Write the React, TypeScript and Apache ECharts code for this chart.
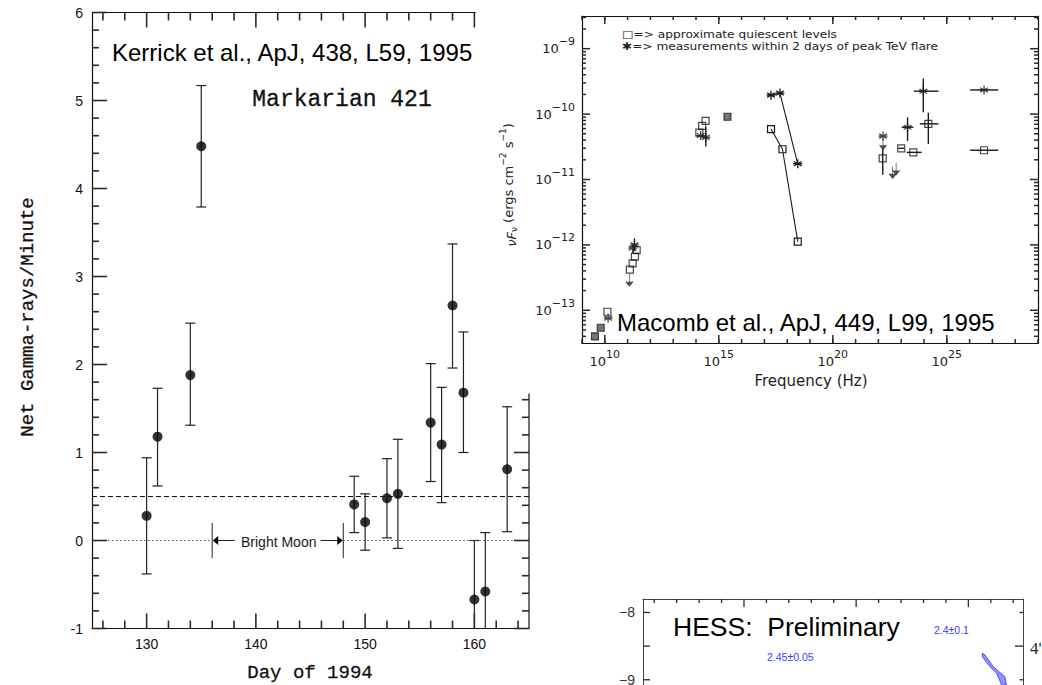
import React, { useEffect, useRef } from 'react';
import * as echarts from 'echarts';

// ---------- Kerrick et al. 1995: Whipple light curve of Markarian 421 ----------
const kerrickDays = [130, 131, 134, 135, 149, 150, 152, 153, 156, 157, 158, 159, 160, 161, 163];
const kerrickRates = [0.28, 1.18, 1.88, 4.48, 0.41, 0.21, 0.48, 0.53, 1.34, 1.09, 2.67, 1.68, -0.67, -0.58, 0.81];
const kerrickUpper = [0.94, 1.73, 2.47, 5.17, 0.73, 0.53, 0.93, 1.15, 2.01, 1.74, 3.37, 2.37, 0.0, 0.09, 1.52];
const kerrickLower = [-0.38, 0.62, 1.31, 3.79, 0.09, -0.11, 0.03, -0.09, 0.67, 0.43, 1.96, 1.0, -1.34, -1.25, 0.1];
const kerrickDayRange = [125, 165];
const kerrickRateRange = [-1, 6];
const kerrickDayTicks = [130, 140, 150, 160];
const kerrickMinorDays = [126, 128, 132, 134, 136, 138, 142, 144, 146, 148, 152, 154, 156, 158, 162, 164];
const kerrickRateTicks = [-1, 0, 1, 2, 3, 4, 5, 6];
// the spectrum panel is pasted over the upper right corner of the light curve frame
const kerrickTopEdgeEnd = 160.1;
const kerrickRightEdgeEnd = 1.67;
const meanRate = 0.5;
const brightMoon = [136, 148];
const brightMoonLabel = 'Bright Moon';

// ---------- Macomb et al. 1995: spectrum, [frequency Hz, nuFnu erg cm^-2 s^-1] ----------
const quiescentPoints = [
  [1.3e10, 9.5e-14],
  [1.26e11, 4.2e-13],
  [1.66e11, 5.2e-13],
  [2.1e11, 6.6e-13],
  [2.5e11, 8.3e-13],
  [1.4e14, 5.2e-11],
  [1.86e14, 6.6e-11],
  [2.63e14, 7.9e-11],
  [1.55e22, 2.1e-11],
  [1.0e23, 3.0e-11],
  [3.4e23, 2.6e-11],
  [1.55e24, 7.1e-11],
  [4.3e26, 2.8e-11],
];
const quiescentFilled = [
  [3.7e9, 4.0e-14],
  [6.6e9, 5.4e-14],
  [2.4e15, 9.1e-11],
];
const quiescentXray = [
  [1.95e17, 5.9e-11],
  [6.2e17, 2.9e-11],
  [2.9e18, 1.12e-12],
];
const flarePoints = [
  [1.4e10, 7.6e-14],
  [1.66e11, 8.9e-13],
  [2.0e11, 1.0e-12],
  [1.6e14, 4.7e-11],
  [2.7e14, 4.4e-11],
  [1.6e22, 4.6e-11],
  [1.9e23, 6.3e-11],
  [9.3e23, 2.24e-10],
  [4.3e26, 2.34e-10],
];
const flareXray = [
  [1.95e17, 1.95e-10],
  [4.8e17, 2.1e-10],
  [2.9e18, 1.74e-11],
];
const upperLimits = [
  [1.2e11, 3.6e-13],
  [1.6e22, 4.4e-11],
  [4.2e22, 1.6e-11],
  [6.0e22, 1.8e-11],
];
// [nu, F, nuLow, nuHigh, FLow, FHigh]
const sedErrorBars = [
  [1.55e22, 2.1e-11, 1.55e22, 1.55e22, 1.18e-11, 3.0e-11],
  [1.0e23, 3.0e-11, 7.5e22, 1.35e23, 3.0e-11, 3.0e-11],
  [3.4e23, 2.6e-11, 1.74e23, 7.9e23, 2.6e-11, 2.6e-11],
  [1.55e24, 7.1e-11, 6.6e23, 4.3e24, 3.5e-11, 1.05e-10],
  [4.3e26, 2.8e-11, 1.05e26, 1.8e27, 2.8e-11, 2.8e-11],
  [1.9e23, 6.3e-11, 1.05e23, 3.4e23, 3.9e-11, 8.9e-11],
  [9.3e23, 2.24e-10, 3.6e23, 4.3e24, 1.07e-10, 3.5e-10],
  [4.3e26, 2.34e-10, 1.05e26, 1.8e27, 2.34e-10, 2.34e-10],
  [2.7e14, 4.4e-11, 2.7e14, 2.7e14, 3.2e-11, 6.3e-11],
  [2.0e11, 1.0e-12, 2.0e11, 2.0e11, 8.0e-13, 1.26e-12],
];
const freqDecadeRange = [9, 29];
const fluxDecadeRange = [-13.5, -8.5];
const freqLabelDecades = [10, 15, 20, 25];
const fluxLabelDecades = [-13, -12, -11, -10, -9];
const legendLines = ['\u25A1=> approximate quiescent levels', '\u2731=> measurements within 2 days of peak TeV flare'];

// ---------- HESS preliminary panel ----------
const hessXRange = [0.1, 3.487];
const hessFluxRange = [-12.25, -7.8];
const hessMajorX = [1, 2, 3];
const hessMinorX = [0.2, 0.4, 0.6, 0.8, 1.2, 1.4, 1.6, 1.8, 2.2, 2.4, 2.6, 2.8, 3.2, 3.4];
const hessFluxTicks = [-10, -9.5, -9, -8.5, -8];
const hessFluxLabels = [-9, -8];
const hessRightMajor = [-8.5, -9.5];
const hessRightMinor = [-8, -9, -10];
const hessBandUpper = [[3.124, -8.606], [3.148, -8.632], [3.222, -8.805], [3.326, -8.954], [3.34, -9.08]];
const hessBandLower = [[3.124, -8.657], [3.193, -8.805], [3.252, -8.903], [3.297, -9.08]];
const hessIndexLabels = ['2.4\u00B10.1', '2.45\u00B10.05'];

const SANS = '"Liberation Sans", Arial, sans-serif';
const PLOT = '"DejaVu Sans", sans-serif';
const TYPE = '"Liberation Mono", "Courier New", monospace';
const INK = '#111';
const TICK = '#2a2a2a';

const lg = (p: number[]) => [Math.log10(p[0]), Math.log10(p[1])];
const minus = (v: number) => String(Math.round(v)).replace('-', '\u2212');
const isOneOf = (list: number[], v: number) => list.some((u) => Math.abs(u - v) < 1e-6);

const linearMinor = (lo: number, hi: number, step: number, skipEvery: number) => {
  const out: number[] = [];
  const n = Math.round((hi - lo) / step);
  for (let i = 1; i < n; i++) {
    if (i % skipEvery !== 0) out.push(+(lo + i * step).toFixed(6));
  }
  return out;
};
const logMinor = (lo: number, hi: number) => {
  const out: number[] = [];
  for (let n = Math.floor(lo) - 1; n <= Math.ceil(hi); n++) {
    for (let k = 2; k <= 9; k++) {
      const v = n + Math.log10(k);
      if (v > lo && v < hi) out.push(v);
    }
  }
  return out;
};
const integerSteps = (lo: number, hi: number) => {
  const out: number[] = [];
  for (let v = Math.ceil(lo); v <= Math.floor(hi); v++) out.push(v);
  return out;
};

// Value axis whose labels are shown only at the listed values
function mkAxis(grid: number, position: string, range: number[], o: any = {}) {
  const color = o.color || INK;
  const lw = o.lineWidth || 1.2;
  const axis: any = {
    type: 'value',
    gridIndex: grid,
    position,
    min: range[0],
    max: range[1],
    splitLine: { show: false },
    axisLine: { show: o.line !== false, onZero: false, lineStyle: { color, width: lw } },
    axisTick: { show: false },
    axisLabel: { show: false },
  };
  if (o.interval) axis.interval = o.interval;
  if (o.labels) {
    const fmt = o.format || ((v: number) => String(v));
    axis.axisLabel = {
      show: true,
      ...o.labelStyle,
      formatter: (v: number) => (isOneOf(o.labels, v) ? fmt(v) : ''),
    };
  }
  return axis;
}

// Frame of one panel: tick marks and partial edges placed through the axis scales.
// ticks entries: [side, values, length]; edges entries: [side, from, to]
function frameRenderer(anchor: number[], ticks: any[], edges: any[], color: string, width: number, tickWidth: number) {
  return (params: any, api: any) => {
    const cs = params.coordSys;
    const gx0 = cs.x;
    const gx1 = cs.x + cs.width;
    const gy0 = cs.y;
    const gy1 = cs.y + cs.height;
    const edgeStyle = { stroke: color, lineWidth: width };
    const children: any[] = [];
    edges.forEach((e: any) => {
      const side = e[0];
      if (side === 'top' || side === 'bottom') {
        const ey = side === 'bottom' ? gy1 : gy0;
        const a = api.coord([e[1], anchor[1]])[0];
        const b = api.coord([e[2], anchor[1]])[0];
        children.push({ type: 'line', shape: { x1: a, y1: ey, x2: b, y2: ey }, style: edgeStyle });
      } else {
        const ex = side === 'left' ? gx0 : gx1;
        const a = api.coord([anchor[0], e[1]])[1];
        const b = api.coord([anchor[0], e[2]])[1];
        children.push({ type: 'line', shape: { x1: ex, y1: a, x2: ex, y2: b }, style: edgeStyle });
      }
    });
    ticks.forEach((t: any) => {
      const side = t[0];
      const len = t[2];
      t[1].forEach((v: number) => {
        const tickStyle = { stroke: TICK, lineWidth: tickWidth };
        if (side === 'bottom' || side === 'top') {
          const px = api.coord([v, anchor[1]])[0];
          const ey = side === 'bottom' ? gy1 : gy0;
          const d = side === 'bottom' ? -len : len;
          children.push({ type: 'line', shape: { x1: px, y1: ey, x2: px, y2: ey + d }, style: tickStyle });
        } else {
          const py = api.coord([anchor[0], v])[1];
          const ex = side === 'left' ? gx0 : gx1;
          const d = side === 'left' ? len : -len;
          children.push({ type: 'line', shape: { x1: ex, y1: py, x2: ex + d, y2: py }, style: tickStyle });
        }
      });
    });
    return { type: 'group', children };
  };
}

const powerRich = {
  b: { fontSize: 13, lineHeight: 25, fontFamily: PLOT, color: '#222' },
  s: { fontSize: 11, lineHeight: 12, verticalAlign: 'top', fontFamily: PLOT, color: '#222' },
};

function kerrickErrorBar(params: any, api: any) {
  const x = api.value(0);
  const lo = api.coord([x, api.value(1)]);
  const hi = api.coord([x, api.value(2)]);
  const cs = params.coordSys;
  const floor = cs.y + cs.height;
  const yLo = Math.min(lo[1], floor);
  const style = { stroke: '#222', lineWidth: 1.2 };
  const children: any[] = [
    { type: 'line', shape: { x1: hi[0], y1: hi[1], x2: hi[0], y2: yLo }, style },
    { type: 'line', shape: { x1: hi[0] - 5, y1: hi[1], x2: hi[0] + 5, y2: hi[1] }, style },
  ];
  if (lo[1] < floor - 0.5) {
    children.push({ type: 'line', shape: { x1: lo[0] - 5, y1: lo[1], x2: lo[0] + 5, y2: lo[1] }, style });
  }
  return { type: 'group', children };
}

function brightMoonMarker(params: any, api: any) {
  const a = api.coord([api.value(0), 0]);
  const b = api.coord([api.value(2), 0]);
  const up = api.coord([api.value(0), 0.2])[1];
  const dn = api.coord([api.value(0), -0.2])[1];
  const y = a[1];
  const mid = (a[0] + b[0]) / 2 + 1;
  const half = 41;
  const style = { stroke: '#222', lineWidth: 1 };
  return {
    type: 'group',
    children: [
      { type: 'line', shape: { x1: a[0], y1: up, x2: a[0], y2: dn }, style },
      { type: 'line', shape: { x1: b[0], y1: up, x2: b[0], y2: dn }, style },
      { type: 'line', shape: { x1: a[0] + 1, y1: y, x2: mid - half - 3, y2: y }, style },
      { type: 'polyline', shape: { points: [[a[0] + 6, y - 4], [a[0] + 1, y], [a[0] + 6, y + 4]] }, style },
      { type: 'line', shape: { x1: mid + half + 1, y1: y, x2: b[0] - 1, y2: y }, style },
      { type: 'polyline', shape: { points: [[b[0] - 6, y - 4], [b[0] - 1, y], [b[0] - 6, y + 4]] }, style },
      {
        type: 'text',
        x: mid,
        y: y + 1,
        style: { text: brightMoonLabel, font: `14px ${SANS}`, fill: '#1a1a1a', textAlign: 'center', textVerticalAlign: 'middle' },
      },
    ],
  };
}

function sedErrorBar(params: any, api: any) {
  const c = api.coord([api.value(0), api.value(1)]);
  const xl = api.coord([api.value(2), api.value(1)])[0];
  const xh = api.coord([api.value(3), api.value(1)])[0];
  const yl = api.coord([api.value(0), api.value(4)])[1];
  const yh = api.coord([api.value(0), api.value(5)])[1];
  const style = { stroke: '#1a1a1a', lineWidth: 1.4 };
  const children: any[] = [];
  if (xh - xl > 0.5) children.push({ type: 'line', shape: { x1: xl, y1: c[1], x2: xh, y2: c[1] }, style });
  if (yl - yh > 0.5) children.push({ type: 'line', shape: { x1: c[0], y1: yh, x2: c[0], y2: yl }, style });
  return { type: 'group', children };
}

function hessBand(params: any, api: any) {
  const pts = [...hessBandUpper, ...hessBandLower.slice().reverse()].map((p) => api.coord(p));
  return {
    type: 'polygon',
    shape: { points: pts },
    style: { fill: 'rgba(70,70,255,0.6)', stroke: '#3535ff', lineWidth: 0.8 },
  };
}

const ASTERISK = 'path://M5,0L5,10M0.7,2.5L9.3,7.5M0.7,7.5L9.3,2.5M0,5L10,5';
const DOWN_ARROW = 'path://M5,0L5,14M1.5,9L5,14L8.5,9';

export default function App() {
  const ref = useRef<HTMLDivElement>(null);

  useEffect(() => {
    if (!ref.current) return;
    const chart = echarts.init(ref.current, null, { renderer: 'svg' });

    const xAxis = [
      mkAxis(0, 'bottom', kerrickDayRange, {
        interval: 5,
        labels: kerrickDayTicks,
        labelStyle: { fontSize: 14, fontFamily: SANS, color: '#111', margin: 8 },
      }),
      mkAxis(1, 'bottom', freqDecadeRange, {
        interval: 1,
        labels: freqLabelDecades,
        format: (v: number) => `{b|10}{s|${Math.round(v)}}`,
        labelStyle: { margin: 6, rich: powerRich },
      }),
      mkAxis(1, 'top', freqDecadeRange, { interval: 1 }),
      mkAxis(2, 'top', hessXRange, { color: '#444', lineWidth: 1 }),
    ];

    const yAxis = [
      mkAxis(0, 'left', kerrickRateRange, {
        interval: 1,
        labels: kerrickRateTicks,
        labelStyle: { fontSize: 14, fontFamily: SANS, color: '#111', margin: 9 },
      }),
      mkAxis(1, 'left', fluxDecadeRange, {
        interval: 0.5,
        labels: fluxLabelDecades,
        format: (v: number) => `{b|10}{s|${minus(v)}}`,
        labelStyle: { margin: 7, rich: powerRich },
      }),
      mkAxis(1, 'right', fluxDecadeRange, { interval: 0.5 }),
      mkAxis(2, 'left', hessFluxRange, {
        color: '#444', lineWidth: 1, interval: 0.25,
        labels: hessFluxLabels,
        format: (v: number) => minus(v),
        labelStyle: { fontSize: 14, fontFamily: SANS, color: '#333', margin: 8 },
      }),
      mkAxis(2, 'right', hessFluxRange, { color: '#444', lineWidth: 1 }),
    ];

    const K = { xAxisIndex: 0, yAxisIndex: 0 };
    const M = { xAxisIndex: 1, yAxisIndex: 1 };
    const H = { xAxisIndex: 3, yAxisIndex: 3 };

    const kMinorRates = linearMinor(kerrickRateRange[0], kerrickRateRange[1], 0.2, 5);
    const decades = integerSteps(freqDecadeRange[0], freqDecadeRange[1]);
    const fluxMinor = logMinor(fluxDecadeRange[0], fluxDecadeRange[1]);
    const [kx0, kx1] = kerrickDayRange;
    const [ky0] = kerrickRateRange;
    const visibleTop = (v: number) => v <= kerrickTopEdgeEnd;
    const visibleRight = (v: number) => v <= kerrickRightEdgeEnd;

    const kAnchor = [kerrickDayTicks[1], 2];
    const mAnchor = [freqLabelDecades[1], fluxLabelDecades[2]];
    const hAnchor = [hessMajorX[1], hessFluxLabels[1]];

    const series: any[] = [
      {
        type: 'custom', ...K, z: 10, encode: { x: 0, y: 1 }, data: [kAnchor],
        renderItem: frameRenderer(kAnchor, [
          ['bottom', kerrickDayTicks, 15], ['bottom', kerrickMinorDays, 8],
          ['top', kerrickDayTicks.filter(visibleTop), 15], ['top', kerrickMinorDays.filter(visibleTop), 8],
          ['left', kerrickRateTicks, 15], ['left', kMinorRates, 7],
          ['right', kerrickRateTicks.filter(visibleRight), 15], ['right', kMinorRates.filter(visibleRight), 7],
        ], [
          ['top', kx0, kerrickTopEdgeEnd],
          ['right', ky0, kerrickRightEdgeEnd],
        ], INK, 1.2, 1.6),
      },
      {
        type: 'custom', ...M, z: 10, encode: { x: 0, y: 1 }, data: [mAnchor],
        renderItem: frameRenderer(mAnchor, [
          ['bottom', decades, 4], ['bottom', freqLabelDecades, 8],
          ['top', decades, 4], ['top', freqLabelDecades, 8],
          ['left', fluxLabelDecades, 8], ['left', fluxMinor, 4],
          ['right', fluxLabelDecades, 8], ['right', fluxMinor, 4],
        ], [], INK, 1.2, 1.5),
      },
      {
        type: 'custom', ...H, z: 10, encode: { x: 0, y: 1 }, data: [hAnchor],
        renderItem: frameRenderer(hAnchor, [
          ['top', hessMajorX, 8], ['top', hessMinorX, 4],
          ['left', hessFluxTicks, 7],
          ['right', hessRightMajor, 8], ['right', hessRightMinor, 3.5],
        ], [], '#444', 1, 1.3),
      },
      // Kerrick
      {
        type: 'line', ...K, symbol: 'none',
        data: [[kx0, meanRate], [kx1, meanRate]],
        lineStyle: { color: '#111', width: 1, type: [5, 3] },
      },
      {
        type: 'line', ...K, symbol: 'none',
        data: [[kx0, 0], [brightMoon[0], 0]],
        lineStyle: { color: '#555', width: 1, type: [1.5, 2.5] },
      },
      {
        type: 'line', ...K, symbol: 'none',
        data: [[brightMoon[1], 0], [kx1, 0]],
        lineStyle: { color: '#555', width: 1, type: [1.5, 2.5] },
      },
      {
        type: 'custom', ...K, encode: { x: 0, y: 1 },
        data: [[brightMoon[0], 0, brightMoon[1]]],
        renderItem: brightMoonMarker,
      },
      {
        type: 'custom', ...K, encode: { x: 0, y: 1 },
        data: kerrickDays.map((d, i) => [d, kerrickLower[i], kerrickUpper[i]]),
        renderItem: kerrickErrorBar,
      },
      {
        type: 'scatter', ...K, symbol: 'circle', symbolSize: 10,
        data: kerrickDays.map((d, i) => [d, kerrickRates[i]]),
        itemStyle: { color: '#000' },
      },
      // Macomb
      {
        type: 'custom', ...M, encode: { x: 0, y: 1 },
        data: sedErrorBars.map((e) => e.map((v) => Math.log10(v))),
        renderItem: sedErrorBar,
      },
      {
        type: 'line', ...M, data: quiescentXray.map(lg),
        symbol: 'rect', symbolSize: 7,
        lineStyle: { color: '#1a1a1a', width: 1.1 },
        itemStyle: { color: 'transparent', borderColor: '#1a1a1a', borderWidth: 1.2 },
      },
      {
        type: 'line', ...M, data: flareXray.map(lg),
        symbol: ASTERISK, symbolSize: 9,
        lineStyle: { color: '#1a1a1a', width: 1.1 },
        itemStyle: { color: 'transparent', borderColor: '#1a1a1a', borderWidth: 1.3 },
      },
      {
        type: 'scatter', ...M, data: quiescentPoints.map(lg),
        symbol: 'rect', symbolSize: 7,
        itemStyle: { color: 'transparent', borderColor: '#1a1a1a', borderWidth: 1.2 },
      },
      {
        type: 'scatter', ...M, data: quiescentFilled.map(lg),
        symbol: 'rect', symbolSize: 7,
        itemStyle: { color: '#555', borderColor: '#1a1a1a', borderWidth: 1.1 },
      },
      {
        type: 'scatter', ...M, data: flarePoints.map(lg),
        symbol: ASTERISK, symbolSize: 9,
        itemStyle: { color: 'transparent', borderColor: '#1a1a1a', borderWidth: 1.3 },
      },
      {
        type: 'scatter', ...M, data: upperLimits.map(lg),
        symbol: DOWN_ARROW, symbolSize: [7, 12], symbolOffset: [0, 6],
        itemStyle: { color: '#333', borderColor: '#333', borderWidth: 1 },
      },
      // HESS
      {
        type: 'custom', ...H, encode: { x: 0, y: 1 },
        data: [hessBandUpper[0]],
        renderItem: hessBand,
      },
    ];

    const courier = (size: number) => ({ font: `${size}px ${TYPE}`, fill: '#111', stroke: '#111', lineWidth: 0.3 });

    const graphic: any[] = [
      {
        type: 'text', x: 112, y: 52,
        style: { text: 'Kerrick et al., ApJ, 438, L59, 1995', font: `24px ${SANS}`, fill: '#000', textVerticalAlign: 'middle' },
      },
      {
        type: 'text', x: 342, y: 100,
        style: { text: 'Markarian 421', ...courier(23), textAlign: 'center', textVerticalAlign: 'middle' },
      },
      {
        type: 'text', x: 28, y: 317, rotation: Math.PI / 2,
        style: { text: 'Net Gamma-rays/Minute', ...courier(19), textAlign: 'center', textVerticalAlign: 'middle' },
      },
      {
        type: 'text', x: 310, y: 673,
        style: { text: 'Day of 1994', ...courier(19), textAlign: 'center', textVerticalAlign: 'middle' },
      },
      {
        type: 'text', x: 622, y: 34, scaleX: 1.16,
        style: { text: legendLines[0], font: `10.5px ${PLOT}`, fill: '#222', textVerticalAlign: 'middle' },
      },
      {
        type: 'text', x: 622, y: 46, scaleX: 1.16,
        style: { text: legendLines[1], font: `10.5px ${PLOT}`, fill: '#222', textVerticalAlign: 'middle' },
      },
      {
        type: 'text', x: 508, y: 185, rotation: Math.PI / 2,
        style: {
          text: '{i|\u03BDF}{sub|\u03BD} (ergs cm{sup|\u22122} s{sup|\u22121})',
          font: `13px ${PLOT}`, fill: '#222', textAlign: 'center', textVerticalAlign: 'middle',
          rich: {
            i: { fontStyle: 'italic', fontSize: 13, fontFamily: PLOT, lineHeight: 20, verticalAlign: 'bottom' },
            sub: { fontSize: 9, fontFamily: PLOT, lineHeight: 12, verticalAlign: 'bottom' },
            sup: { fontSize: 9, fontFamily: PLOT, lineHeight: 12, verticalAlign: 'top' },
          },
        },
      },
      {
        type: 'text', x: 811, y: 381,
        style: { text: 'Frequency (Hz)', font: `15px ${PLOT}`, fill: '#222', textAlign: 'center', textVerticalAlign: 'middle' },
      },
      {
        type: 'text', x: 617, y: 322,
        style: { text: 'Macomb et al., ApJ, 449, L99, 1995', font: `24px ${SANS}`, fill: '#000', textVerticalAlign: 'middle' },
      },
      {
        type: 'text', x: 673, y: 627,
        style: { text: 'HESS:  Preliminary', font: `26.5px ${SANS}`, fill: '#000', textVerticalAlign: 'middle' },
      },
      {
        type: 'text', x: 934, y: 630,
        style: { text: hessIndexLabels[0], font: `10.5px ${SANS}`, fill: '#3c3cff', textVerticalAlign: 'middle' },
      },
      {
        type: 'text', x: 767, y: 657,
        style: { text: hessIndexLabels[1], font: `10.5px ${SANS}`, fill: '#3c3cff', textVerticalAlign: 'middle' },
      },
      {
        type: 'text', x: 1030, y: 648,
        style: { text: "4'", font: `17px "Liberation Serif", serif`, fill: '#222', textVerticalAlign: 'middle' },
      },
    ];

    chart.setOption({
      animation: false,
      grid: [
        { left: 92, top: 12.5, width: 437, height: 616, outerBoundsMode: 'none' },
        { left: 582, top: 16, width: 456, height: 327, outerBoundsMode: 'none' },
        { left: 643, top: 599, width: 380, height: 299.5, outerBoundsMode: 'none' },
      ],
      xAxis,
      yAxis,
      series,
      graphic,
    });

    return () => chart.dispose();
  }, []);

  return (
    <div
      ref={ref}
      style={{ position: 'fixed', left: 0, top: 0, width: 1042, height: 685, background: '#fff', overflow: 'hidden' }}
    />
  );
}
